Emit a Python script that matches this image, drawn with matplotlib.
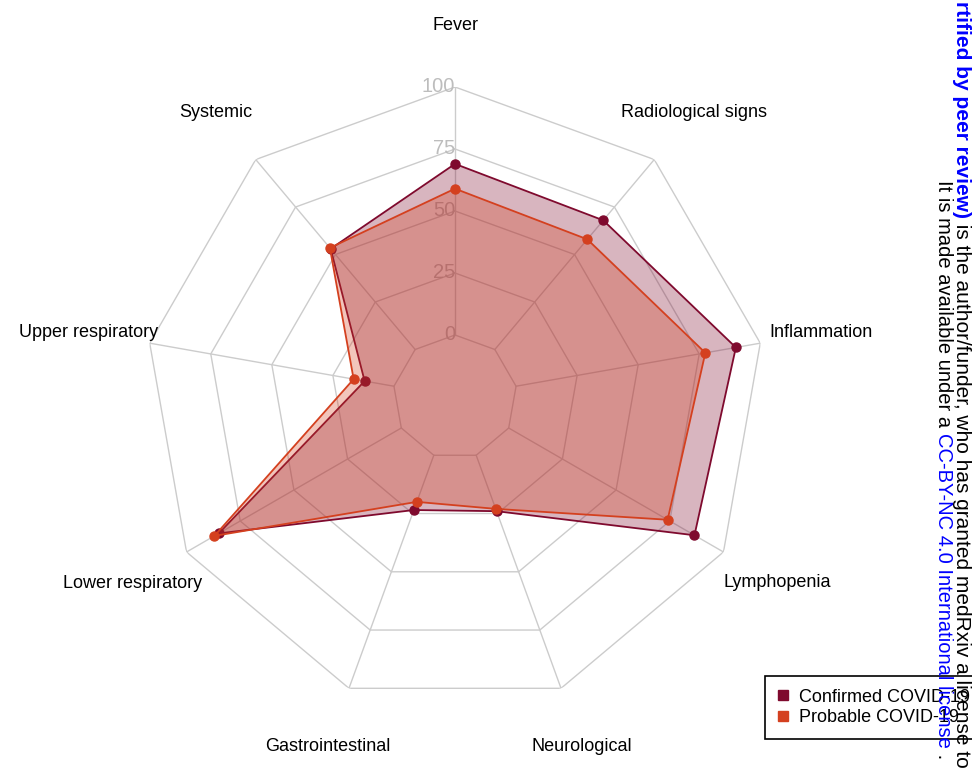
import numpy as np
import matplotlib

matplotlib.use("Agg")
import matplotlib.pyplot as plt
from matplotlib.lines import Line2D

# symptom categories, clockwise from the top
categories = ["Fever", "Radiological signs", "Inflammation", "Lymphopenia",
              "Neurological", "Gastrointestinal", "Lower respiratory",
              "Upper respiratory", "Systemic"]
confirmed = [69, 68, 90, 86.5, 24, 23.5, 85, 12, 53]
probable = [59, 58, 77.5, 74, 23, 20, 87, 16.5, 53.5]
levels = [0, 25, 50, 75, 100]
series_names = ["Confirmed COVID-19", "Probable COVID-19"]

CONF_COLOR = "#7f0a2e"
PROB_COLOR = "#d4401f"
GRID_COLOR = "#cccccc"

plt.rcParams["font.family"] = ["Liberation Sans", "DejaVu Sans"]

fig = plt.figure(figsize=(9.72, 7.76), dpi=100)
W, H = 972, 776
cx, cy, R = 455, 397, 310  # centre and outer radius in pixels
ax = fig.add_axes([(cx - R) / W, (H - cy - R) / H, 2 * R / W, 2 * R / H],
                  projection="polar")
ax.set_theta_zero_location("N")
ax.set_theta_direction(-1)
ax.set_ylim(-25, 100)  # leaves a small empty ring inside the 0 level
ax.axis("off")

n = len(categories)
theta = np.linspace(0, 2 * np.pi, n, endpoint=False)
theta_c = np.append(theta, theta[0])

# polygon grid + spokes
for lv in levels:
    ax.plot(theta_c, [lv] * (n + 1), color=GRID_COLOR, lw=1.0, zorder=1)
for t in theta:
    ax.plot([t, t], [0, 100], color=GRID_COLOR, lw=1.0, zorder=1)

for lv in levels:
    ax.text(0, lv, str(lv), ha="right", va="center", color="#bdbdbd",
            fontsize=14.5, zorder=1)

for t, cat in zip(theta, categories):
    ax.text(t, 125, cat, ha="center", va="center", fontsize=13, clip_on=False)

# series
for vals, color, z in [(confirmed, CONF_COLOR, 2), (probable, PROB_COLOR, 5)]:
    vals_c = np.append(vals, vals[0])
    ax.fill(theta_c, vals_c, color=color, alpha=0.3, lw=0, zorder=z)
    ax.plot(theta_c, vals_c, color=color, lw=1.3, zorder=z + 1)
    ax.plot(theta, vals, "o", ms=6.5, color=color, zorder=z + 2)

handles = [Line2D([], [], marker="s", ls="", ms=7, color=c)
           for c in (CONF_COLOR, PROB_COLOR)]
leg = fig.legend(handles, series_names, loc="upper left",
                 bbox_to_anchor=(765 / W, 1 - 676 / H), frameon=True,
                 fancybox=False, edgecolor="black", framealpha=1,
                 borderaxespad=0, fontsize=13, handlelength=0.6,
                 handletextpad=0.6, labelspacing=0.2, borderpad=0.7)
leg.get_frame().set_linewidth(1.2)
leg.set_zorder(5)

# medRxiv side watermark (cut off like the original)
fig.canvas.draw()
renderer = fig.canvas.get_renderer()


def vertical_line(x_px, y_top_px, pieces, size=15):
    y = 1 - y_top_px / H
    for txt, color, weight in pieces:
        t = fig.text(x_px / W, y, txt, rotation=-90, rotation_mode="anchor",
                     ha="left", va="center", color=color, fontweight=weight,
                     fontsize=size, zorder=10)
        bb = t.get_window_extent(renderer)
        y = bb.y0 / fig.bbox.height


vertical_line(961, 1, [("rtified by peer review)", "blue", "bold"),
                       (" is the author/funder, who has granted medRxiv a license to",
                        "black", "normal")])
vertical_line(943, 180, [("It is made available under a ", "black", "normal"),
                         ("CC-BY-NC 4.0 International license", "blue", "normal"),
                         (" .", "black", "normal")], size=14.5)

fig.savefig("out.png", dpi=100)
